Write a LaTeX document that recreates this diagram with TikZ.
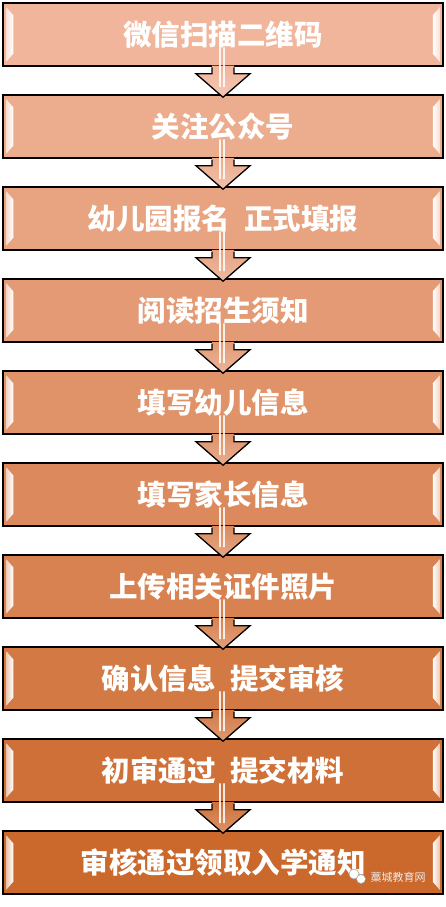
\documentclass[tikz,border=0pt]{standalone}
\usepackage{fontspec}
\newfontfamily\cjk{Noto Sans CJK SC}
\usetikzlibrary{calc}
\definecolor{cLight}{HTML}{F1B59B}
\definecolor{cDark}{HTML}{CB682C}
\tikzset{
  stepbox/.style={draw=black, line width=1.5pt, minimum width=440pt, minimum height=63pt,
    inner sep=0pt, text=white, font=\cjk\bfseries\fontsize{28.5}{30}\selectfont},
  arrowline/.style={draw=black, line width=1.3pt, line join=miter},
  hilite/.style={draw=white, line width=1.2pt, line cap=round, opacity=0.85}
}
\begin{document}
\begin{tikzpicture}[x=1pt,y=-1pt]
\useasboundingbox (0,0) rectangle (445,907);
\fill[white] (0,0) rectangle (445,907);
\foreach \t [count=\i from 0] in {微信扫描二维码, 关注公众号, 幼儿园报名\hspace{0.5em}正式填报, 阅读招生须知, 填写幼儿信息, 填写家长信息, 上传相关证件照片, 确认信息\hspace{0.5em}提交审核, 初审通过\hspace{0.5em}提交材料, 审核通过领取入学通知}{
  \pgfmathtruncatemacro\pct{100 - \i*100/9}
  \colorlet{bc}{cLight!\pct!cDark}
  \pgfmathsetmacro\yc{3+92*\i+31.5}
  \node[stepbox, fill=bc] (b\i) at (223,\yc) {\t};
  % bevel highlights
  \shade[left color=white!60!bc, right color=white]
    ($(b\i.north west)+(4,5)$) -- ($(b\i.north west)+(11,13)$) -- ($(b\i.south west)+(11,-13)$) -- ($(b\i.south west)+(4,-5)$) -- cycle;
  \shade[right color=white!60!bc, left color=white]
    ($(b\i.north east)+(-4,5)$) -- ($(b\i.north east)+(-11,13)$) -- ($(b\i.south east)+(-11,-13)$) -- ($(b\i.south east)+(-4,-5)$) -- cycle;
}
\foreach \i [evaluate=\i as \j using int(\i+1)] in {0,...,8}{
  \pgfmathtruncatemacro\pct{100 - \i*100/9}
  \colorlet{bc}{cLight!\pct!cDark}
  \shade[top color=bc, bottom color=bc!75!white]
    ($(b\i.south)+(-11,-1)$) -- ($(b\i.south)+(-11,7)$) -- ($(b\i.south)+(-27,7)$) -- ($(b\j.north)+(0,3)$)
    -- ($(b\i.south)+(27,7)$) -- ($(b\i.south)+(11,7)$) -- ($(b\i.south)+(11,-1)$) -- cycle;
  \draw[arrowline] ($(b\i.south)+(-11,0.75)$) -- ($(b\i.south)+(-11,7)$) -- ($(b\i.south)+(-27,7)$) -- ($(b\j.north)+(0,3)$)
    -- ($(b\i.south)+(27,7)$) -- ($(b\i.south)+(11,7)$) -- ($(b\i.south)+(11,0.75)$);
  \draw[hilite] ($(b\i.south)+(-3,-19)$) -- ($(b\i.south)+(-3,20)$);
  \draw[hilite] ($(b\i.south)+(1,-19)$) -- ($(b\i.south)+(1,20)$);
}
% watermark
\node[circle, fill=white, draw=gray!70, line width=0.6pt, minimum size=10pt, inner sep=0pt] (w1) at (354,874) {};
\node[circle, fill=white, draw=gray!70, line width=0.6pt, minimum size=9pt, inner sep=0pt] (w2) at (361,879) {};
\node[text=gray!15, font=\cjk\fontsize{11}{12}\selectfont, anchor=west] (wm) at (367,877) {藁城教育网};
\end{tikzpicture}
\end{document}
